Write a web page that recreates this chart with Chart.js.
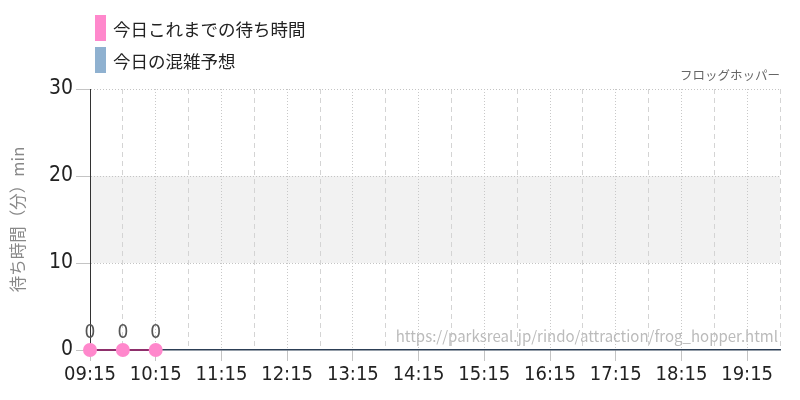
<!DOCTYPE html>
<html lang="ja">
<head>
<meta charset="utf-8">
<title>フロッグホッパー 待ち時間</title>
<script src="https://cdn.jsdelivr.net/npm/chart.js@4/dist/chart.umd.min.js"></script>
<style>
  html, body { margin: 0; padding: 0; background: #fff; }
  #wrap { position: relative; width: 800px; height: 400px; }
  #legend { position: absolute; left: 95px; top: 15px; font-family: "Noto Sans CJK JP", sans-serif; font-size: 17.5px; color: #222; }
  #legend div { display: flex; align-items: center; height: 26px; margin-bottom: 6px; }
  #legend span.box { display: inline-block; width: 11px; height: 26px; margin-right: 7px; }
</style>
</head>
<body>
<div id="wrap">
  <canvas id="waitChart" width="800" height="400"></canvas>
  <div id="legend"></div>
</div>
<script>
/* frog hopper wait times — today so far + forecast band */

const timeLabels = [
  '09:15', '09:45', '10:15', '10:45', '11:15', '11:45', '12:15', '12:45',
  '13:15', '13:45', '14:15', '14:45', '15:15', '15:45', '16:15', '16:45',
  '17:15', '17:45', '18:15', '18:45', '19:15', '19:45'
];
const waitValues = [0, 0, 0];          // 今日これまでの待ち時間 (min)
const forecastValues = [];             // 今日の混雑予想 — nothing drawn in the picture
const yTicks = [0, 10, 20, 30];
const shadeRange = [10, 20];           // grey band
const seriesNames = ['今日これまでの待ち時間', '今日の混雑予想'];
const seriesColors = ['#ff88cc', '#8fb1d0'];
const attractionName = 'フロッグホッパー';
const sourceUrl = 'https://parksreal.jp/rindo/attraction/frog_hopper.html';

const jpFont = '"Noto Sans CJK JP", "Noto Sans", sans-serif';

// numbers in the reference are tall and narrow; pick the narrowest face available
const numFont = (() => {
  const c = document.createElement('canvas').getContext('2d');
  const w = (f) => { c.font = f; return c.measureText('09:15').width; };
  const notoN = w('23px "Noto Sans"');
  const notoX = w('normal normal extra-condensed 23px "Noto Sans"');
  if (notoX < notoN * 0.85) return { family: '"Noto Sans"', size: 23, weight: 'normal extra-condensed' };
  const djN = w('20px "DejaVu Sans"');
  const djC = w('normal normal condensed 20px "DejaVu Sans"');
  if (djC < djN * 0.95) return { family: '"DejaVu Sans"', size: 20, weight: 'normal condensed' };
  return { family: 'Roboto, sans-serif', size: 21 };
})();
const numFontStr = (size) => `${numFont.weight || 'normal'} ${size}px ${numFont.family}`;

// grey band between shadeRange values
const bandPlugin = {
  id: 'band',
  beforeDraw(chart) {
    const { ctx, chartArea, scales: { y } } = chart;
    const top = y.getPixelForValue(shadeRange[1]);
    const bot = y.getPixelForValue(shadeRange[0]);
    ctx.save();
    ctx.fillStyle = '#f2f2f2';
    ctx.fillRect(chartArea.left, top, chartArea.right - chartArea.left, bot - top);
    ctx.restore();
  }
};

// value labels above the points + source url
const labelPlugin = {
  id: 'valueLabels',
  afterDatasetsDraw(chart) {
    const { ctx, chartArea } = chart;
    ctx.save();
    ctx.font = numFontStr(numFont.size - 1);
    ctx.fillStyle = '#555';
    ctx.textAlign = 'center';
    ctx.textBaseline = 'alphabetic';
    const meta = chart.getDatasetMeta(0);
    meta.data.forEach((pt, i) => {
      const v = waitValues[i];
      if (v == null) return;
      ctx.fillText(String(v), pt.x, pt.y - 12);
    });

    ctx.font = `15px ${jpFont}`;
    ctx.fillStyle = '#bbb';
    ctx.textAlign = 'right';
    ctx.fillText(sourceUrl, chartArea.right - 2, chartArea.bottom - 8);
    ctx.restore();
  }
};

const even = (ctx) => ctx.index % 2 === 0;

const chart = new Chart(document.getElementById('waitChart'), {
  type: 'line',
  data: {
    labels: timeLabels,
    datasets: [
      {
        label: seriesNames[0],
        data: waitValues,
        borderColor: '#8e2f6b',
        borderWidth: 2,
        backgroundColor: seriesColors[0],
        pointBackgroundColor: seriesColors[0],
        pointBorderColor: seriesColors[0],
        pointRadius: 6,
        tension: 0,
        clip: false
      },
      {
        label: seriesNames[1],
        data: forecastValues,
        borderColor: seriesColors[1],
        backgroundColor: seriesColors[1],
        pointRadius: 0
      }
    ]
  },
  options: {
    responsive: false,
    animation: false,
    layout: { padding: { top: 68, right: 20, left: 0, bottom: 0 } },
    plugins: {
      legend: { display: false },
      tooltip: { enabled: false },
      title: {
        display: true,
        text: attractionName,
        align: 'end',
        color: '#666',
        font: { family: jpFont, size: 12.5, weight: 'normal' },
        padding: { top: 0, bottom: 6 }
      }
    },
    scales: {
      x: {
        type: 'category',
        offset: false,
        grid: {
          color: (c) => even(c) ? 'rgba(0,0,0,0)' : '#d4d4d4',
          tickColor: (c) => even(c) ? '#c4c4c4' : 'rgba(0,0,0,0)',
          tickLength: 11,
          tickBorderDash: []
        },
        border: { display: true, color: '#2c3e55', width: 1.5, dash: [5, 4] },
        ticks: {
          autoSkip: false,
          maxRotation: 0,
          padding: 2,
          color: '#222',
          font: numFont,
          callback: (v, i) => (i % 2 === 0 ? timeLabels[i] : '')
        },
        afterFit: (s) => { s.height = 50; }
      },
      // hourly dotted grid lines only
      xh: {
        type: 'category',
        position: 'top',
        offset: false,
        grid: {
          color: (c) => even(c) ? '#c8c8c8' : 'rgba(0,0,0,0)',
          drawTicks: false
        },
        border: { display: false, dash: [1, 2] },
        ticks: { display: false },
        afterFit: (s) => { s.height = 0; }
      },
      y: {
        min: 0,
        max: 30,
        afterBuildTicks: (s) => { s.ticks = yTicks.map(v => ({ value: v })); },
        grid: {
          color: (c) => (c.tick && c.tick.value === 0 ? 'rgba(0,0,0,0)' : '#c4c4c4'),
          tickColor: '#c4c4c4',
          tickLength: 14,
          tickBorderDash: []
        },
        border: { display: true, color: '#333', width: 1, dash: [1, 2] },
        ticks: { color: '#222', font: { ...numFont, size: numFont.size + 1 }, padding: 3 },
        title: {
          display: true,
          text: '待ち時間（分）min',
          color: '#888',
          font: { family: jpFont, size: 16.5 },
          padding: { top: 8, bottom: 0 }
        },
        afterFit: (s) => { s.width = 90; }
      }
    }
  },
  plugins: [bandPlugin, labelPlugin]
});

// legend built from the datasets
document.getElementById('legend').innerHTML = chart.data.datasets
  .map((d, i) => `<div><span class="box" style="background:${seriesColors[i]}"></span>${d.label}</div>`)
  .join('');
</script>
</body>
</html>
